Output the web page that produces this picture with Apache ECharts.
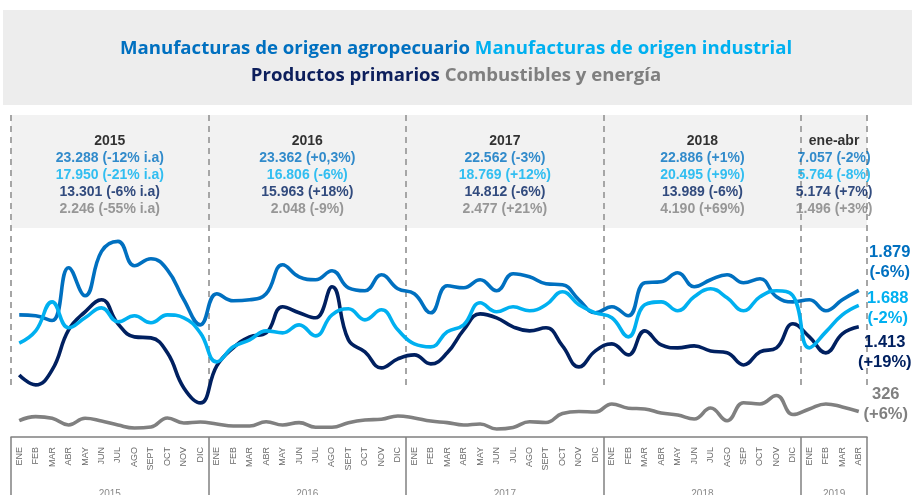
<!DOCTYPE html>
<html><head><meta charset="utf-8">
<script src="https://cdn.jsdelivr.net/npm/echarts@6/dist/echarts.min.js"></script>
<style>html,body{margin:0;padding:0;background:#fff}#c{width:912px;height:495px}</style>
</head><body><div id="c"></div>
<script>
// ---- data ----
const monthLabels = [
  'ENE','FEB','MAR','ABR','MAY','JUN','JUL','AGO','SEPT','OCT','NOV','DIC',
  'ENE','FEB','MAR','ABR','MAY','JUN','JUL','AGO','SEPT','OCT','NOV','DIC',
  'ENE','FEB','MAR','ABR','MAY','JUN','JUL','AGO','SEPT','OCT','NOV','DIC',
  'ENE','FEB','MAR','ABR','MAY','JUN','JUL','AGO','SEP','OCT','NOV','DIC',
  'ENE','FEB','MAR','ABR'];
const yearAxisLabels = ['2015','2016','2017','2018','2019'];
const yearMonths = [12,12,12,12,4];

const moa = [1566,1554,1493,2170,1810,2379,2508,2196,2286,2144,1759,1438,
             1836,1746,1759,1836,2208,2054,2016,2131,1913,1875,2080,1900,
             1836,1592,1939,1913,2016,1875,2093,2054,1965,1952,1759,1592,
             1669,1554,1977,1990,2106,1926,2016,2080,1977,2029,1798,1733,
             1759,1618,1759,1879];
const moi = [1203,1361,1733,1400,1528,1656,1477,1554,1464,1566,1528,1335,
             963,1156,1245,1361,1335,1438,1297,1566,1644,1502,1631,1374,
             1194,1156,1348,1438,1721,1605,1669,1618,1695,1862,1695,1592,
             1528,1284,1695,1733,1618,1798,1900,1785,1618,1798,1875,1810,
             1143,1348,1566,1688];
const pp  = [796,668,860,1374,1605,1759,1451,1284,1271,1079,629,437,
             912,1143,1284,1335,1669,1592,1528,1926,1245,1091,886,1002,
             1053,937,1079,1374,1579,1528,1412,1361,1400,1168,899,1104,
             1194,1053,1361,1181,1143,1168,1104,1079,924,1091,1143,1451,
             1284,1079,1323,1413];
const cye = [209,261,240,154,240,205,154,116,128,244,180,193,
             167,141,141,196,154,184,125,125,184,218,227,270,
             244,205,184,154,167,103,122,196,186,302,327,321,
             424,369,360,308,282,231,372,209,440,424,533,289,
             360,424,385,326];

const seriesNames = ['Manufacturas de origen agropecuario','Manufacturas de origen industrial','Productos primarios','Combustibles y energía'];
const endNotes = ['(-6%)','(-2%)','(+19%)','(+6%)'];

const statTitles = ['2015','2016','2017','2018','ene-abr'];
const moaStats = ['23.288 (-12% i.a)','23.362 (+0,3%)','22.562 (-3%)','22.886 (+1%)','7.057 (-2%)'];
const moiStats = ['17.950 (-21% i.a)','16.806 (-6%)','18.769 (+12%)','20.495 (+9%)','5.764 (-8%)'];
const ppStats  = ['13.301 (-6% i.a)','15.963 (+18%)','14.812 (-6%)','13.989 (-6%)','5.174 (+7%)'];
const cyeStats = ['2.246 (-55% i.a)','2.048 (-9%)','2.477 (+21%)','4.190 (+69%)','1.496 (+3%)'];

// ---- styling ----
const C = {moa:'#0070C0', moi:'#00B0F0', pp:'#002060', cye:'#808080'};
const FONT = 'Liberation Sans, Arial, sans-serif';
const L = 11, R = 45;
const nMonths = monthLabels.length;

const yearCenters = [];
{ let s = 0; yearMonths.forEach(m => { yearCenters.push(s + m/2); s += m; }); }

const fmt = v => v >= 1000 ? Math.floor(v/1000) + '.' + String(v % 1000).padStart(3,'0') : String(v);

function lineSeries(name, data, color, note, offset) {
  const last = data.length - 1;
  return {
    name, type:'line', xAxisIndex:0, yAxisIndex:0, data,
    smooth:0.45, symbol:'none', silent:true,
    lineStyle:{color, width:3.6}, itemStyle:{color},
    markPoint:{
      silent:true, symbol:'circle', symbolSize:1, itemStyle:{color:'rgba(0,0,0,0)'},
      label:{show:true, position:'inside', offset, align:'center',
        formatter: p => fmt(p.value) + '\n' + note,
        color, fontFamily:FONT, fontWeight:'bold', fontSize:16.5, lineHeight:20},
      data:[{coord:[last, data[last]], value:data[last]}]
    }
  };
}
const tStyle = (color) => ({color, fontFamily:'Open Sans', fontWeight:'bold', fontSize:18.6, lineHeight:27});

const chart = echarts.init(document.getElementById('c'), null, {renderer:'canvas'});
chart.setOption({
  animation:false,
  backgroundColor:'#ffffff',
  graphic:[{type:'rect', z:-10, silent:true, shape:{x:3, y:10, width:909, height:95}, style:{fill:'#ededed'}}],
  title:{
    left:'center', top:30,
    text:'{a|' + seriesNames[0] + '} {b|' + seriesNames[1] + '}\n{c|' + seriesNames[2] + '} {d|' + seriesNames[3] + '}',
    textStyle:Object.assign(tStyle('#333'), {
      rich:{ a:tStyle(C.moa), b:tStyle(C.moi), c:tStyle('#0d1f5c'), d:tStyle('#7f7f7f') }})
  },
  grid:[
    {left:L, right:R, top:125, bottom:58},
    {left:L, right:R, top:115, bottom:110},
    {left:L, right:R, top:115, height:113, show:true, backgroundColor:'#f2f2f2', borderWidth:0},
    {left:L, right:R, top:420, bottom:58},
    {left:L, right:R, top:437, bottom:0}
  ],
  xAxis:[
    {gridIndex:0, type:'category', data:monthLabels, boundaryGap:true, show:false},
    {gridIndex:1, type:'value', min:0, max:nMonths, interval:12,
      axisLine:{show:false}, axisTick:{show:false}, axisLabel:{show:false},
      splitLine:{show:true, lineStyle:{color:'#a6a6a6', width:2, type:[6,5]}}},
    {gridIndex:2, type:'value', min:0, max:nMonths, show:false},
    {gridIndex:3, type:'category', data:monthLabels, boundaryGap:true,
      axisLine:{show:true, lineStyle:{color:'#808080', width:1.5}}, axisTick:{show:false},
      axisLabel:{interval:0, rotate:90, fontSize:9, color:'#6a6a6a', margin:10, fontFamily:FONT}},
    {gridIndex:4, type:'value', min:0, max:nMonths, interval:12,
      axisLine:{show:false}, axisTick:{show:false}, axisLabel:{show:false},
      splitLine:{show:true, lineStyle:{color:'#808080', width:1.5}}}
  ],
  yAxis:[
    {gridIndex:0, type:'value', min:0, max:4000, show:false},
    {gridIndex:1, type:'value', min:0, max:1, show:false},
    {gridIndex:2, type:'value', min:0, max:1, show:false},
    {gridIndex:3, type:'value', min:0, max:1, show:false},
    {gridIndex:4, type:'value', min:0, max:1, show:false}
  ],
  series:[
    lineSeries(seriesNames[0], moa, C.moa, endNotes[0], [31,-28]),
    lineSeries(seriesNames[2], pp, C.pp, endNotes[2], [26,26]),
    lineSeries(seriesNames[1], moi, C.moi, endNotes[1], [29,3]),
    lineSeries(seriesNames[3], cye, C.cye, endNotes[3], [27,-7]),
    {
      type:'scatter', xAxisIndex:2, yAxisIndex:2, silent:true, symbolSize:1,
      itemStyle:{color:'rgba(0,0,0,0)'},
      data: yearCenters.map(c => [c, 0.47]),
      label:{show:true, position:'inside',
        formatter: p => {
          const i = p.dataIndex;
          return '{y|' + statTitles[i] + '}\n{a|' + moaStats[i] + '}\n{b|' + moiStats[i] + '}\n{c|' + ppStats[i] + '}\n{d|' + cyeStats[i] + '}';
        },
        rich:{
          y:{color:'#000', fontFamily:FONT, fontWeight:'bold', fontSize:14, lineHeight:17, align:'center'},
          a:{color:C.moa, fontFamily:FONT, fontWeight:'bold', fontSize:14, lineHeight:17, align:'center'},
          b:{color:C.moi, fontFamily:FONT, fontWeight:'bold', fontSize:14, lineHeight:17, align:'center'},
          c:{color:C.pp, fontFamily:FONT, fontWeight:'bold', fontSize:14, lineHeight:17, align:'center'},
          d:{color:C.cye, fontFamily:FONT, fontWeight:'bold', fontSize:14, lineHeight:17, align:'center'}
        }}
    },
    {
      type:'scatter', xAxisIndex:4, yAxisIndex:4, silent:true, symbolSize:1,
      itemStyle:{color:'rgba(0,0,0,0)'},
      data: yearCenters.map(c => [c, 0.02]),
      label:{show:true, position:'inside', formatter: p => yearAxisLabels[p.dataIndex],
        fontFamily:FONT, fontSize:10, color:'#6a6a6a'}
    }
  ]
});
</script>
</body></html>
